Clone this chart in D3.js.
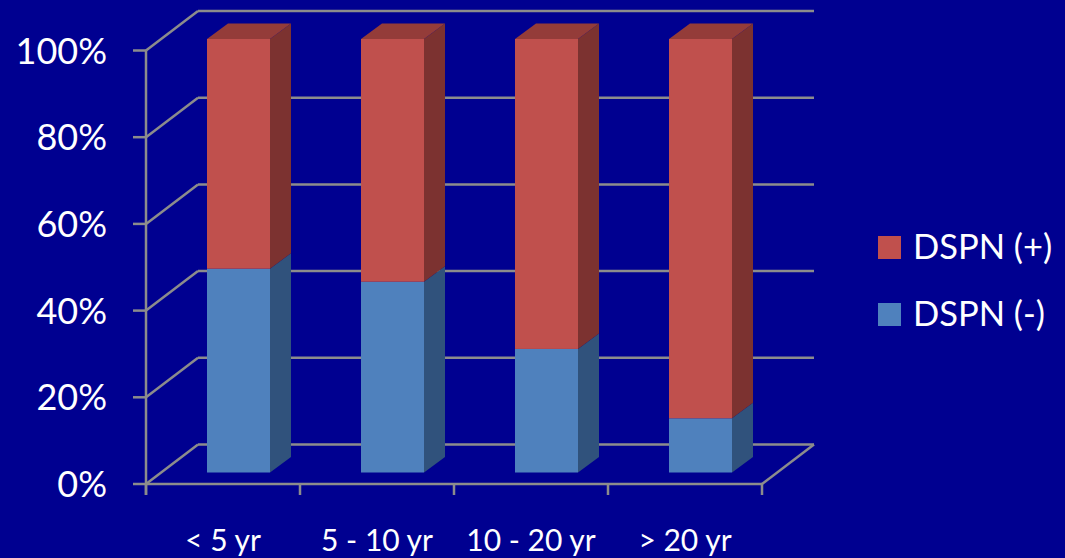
<!DOCTYPE html>
<html>
<head>
<meta charset="utf-8">
<script src="https://cdn.jsdelivr.net/npm/d3@7"></script>
<style>
  html, body { margin: 0; padding: 0; background: #000090; }
  svg { display: block; }
  text { font-family: Lato, "Open Sans", sans-serif; fill: #ffffff; }
</style>
</head>
<body>
<svg id="chart" width="1065" height="558"></svg>
<script>
// Duration of diabetes groups and share of patients with / without DSPN
const categories = ["< 5 yr", "5 - 10 yr", "10 - 20 yr", "> 20 yr"];
const dspnNeg = [0.47, 0.44, 0.285, 0.125];
const dspnPos = dspnNeg.map(v => 1 - v);
const yTicks = [0, 0.2, 0.4, 0.6, 0.8, 1.0];
const seriesNames = ["DSPN (+)", "DSPN (-)"];

const W = 1065, H = 558;
const svg = d3.select("#chart");

// front plane of the 3D plot box
const x = d3.scaleBand().domain(categories).range([146, 762]).padding(0);
const y = d3.scaleLinear().domain([0, 1]).range([484, 50.5]);

// oblique depth of the walls and of the bars
const wallDx = 52, wallDy = -39.5;
const barShiftX = 15.5, barShiftY = -11.5;   // bars sit part-way into the box
const barDx = 21, barDy = -15.5;             // bar depth
const barW = 63;

const grid = "#8c8c8c";
const colors = {
  pos: { front: "#c0504d", side: "#7c3230", top: "#943c39" },
  neg: { front: "#4f81bd", side: "#30527c", top: "#3d679a" }
};

const g = svg.append("g");

// back wall gridlines
g.selectAll("line.back").data(yTicks).join("line")
  .attr("x1", 146 + wallDx).attr("x2", 762 + wallDx)
  .attr("y1", d => y(d) + wallDy).attr("y2", d => y(d) + wallDy)
  .attr("stroke", grid).attr("stroke-width", 2.5);

// left wall gridlines (diagonals)
g.selectAll("line.side").data(yTicks).join("line")
  .attr("x1", 146).attr("x2", 146 + wallDx)
  .attr("y1", d => y(d)).attr("y2", d => y(d) + wallDy)
  .attr("stroke", grid).attr("stroke-width", 2.5);

// floor: front edge and right edge
g.append("line")
  .attr("x1", 146).attr("x2", 762).attr("y1", y(0)).attr("y2", y(0))
  .attr("stroke", grid).attr("stroke-width", 2.5);
g.append("line")
  .attr("x1", 762).attr("x2", 762 + wallDx).attr("y1", y(0)).attr("y2", y(0) + wallDy)
  .attr("stroke", grid).attr("stroke-width", 2.5);

// vertical value axis with ticks
g.append("line")
  .attr("x1", 146).attr("x2", 146).attr("y1", y(1)).attr("y2", y(0) + 11)
  .attr("stroke", grid).attr("stroke-width", 2.5);
g.selectAll("line.ytick").data(yTicks).join("line")
  .attr("x1", 133).attr("x2", 146)
  .attr("y1", d => y(d)).attr("y2", d => y(d))
  .attr("stroke", grid).attr("stroke-width", 2.5);

// category ticks along the front floor edge
const catEdges = categories.map(c => x(c)).concat([x(categories[categories.length - 1]) + x.bandwidth()]);
g.selectAll("line.xtick").data(catEdges).join("line")
  .attr("x1", d => d).attr("x2", d => d)
  .attr("y1", y(0)).attr("y2", y(0) + 11)
  .attr("stroke", grid).attr("stroke-width", 2.5);

// stacked 3D bars
const stacks = categories.map((c, i) => ({
  cat: c,
  segs: [
    { key: "neg", y0: 0, y1: dspnNeg[i] },
    { key: "pos", y0: dspnNeg[i], y1: dspnNeg[i] + dspnPos[i] }
  ]
}));

const bars = g.selectAll("g.bar").data(stacks).join("g").attr("class", "bar");

bars.each(function (d) {
  const bg = d3.select(this);
  const cx = x(d.cat) + x.bandwidth() / 2 + barShiftX;
  const xl = cx - barW / 2, xr = cx + barW / 2;
  d.segs.forEach((s, k) => {
    const yt = y(s.y1) + barShiftY, yb = y(s.y0) + barShiftY;
    const col = colors[s.key];
    // side face
    bg.append("path")
      .attr("d", `M${xr},${yb}L${xr + barDx},${yb + barDy}L${xr + barDx},${yt + barDy}L${xr},${yt}Z`)
      .attr("fill", col.side);
    // front face
    bg.append("rect")
      .attr("x", xl).attr("y", yt).attr("width", barW).attr("height", yb - yt)
      .attr("fill", col.front);
    // top face on the topmost segment
    if (k === d.segs.length - 1) {
      bg.append("path")
        .attr("d", `M${xl},${yt}L${xl + barDx},${yt + barDy}L${xr + barDx},${yt + barDy}L${xr},${yt}Z`)
        .attr("fill", col.top);
    }
  });
});

// value axis labels
g.selectAll("text.ylab").data(yTicks).join("text")
  .attr("x", 107).attr("y", d => y(d) + 13)
  .attr("text-anchor", "end")
  .attr("font-size", 36)
  .text(d => d3.format(".0%")(d));

// category labels
g.selectAll("text.xlab").data(categories).join("text")
  .attr("x", d => x(d) + x.bandwidth() / 2)
  .attr("y", 551)
  .attr("text-anchor", "middle")
  .attr("font-size", 30)
  .text(d => d);

// legend
const legend = g.append("g");
const legendItems = [
  { name: seriesNames[0], color: colors.pos.front, y: 236 },
  { name: seriesNames[1], color: colors.neg.front, y: 303 }
];
legend.selectAll("rect").data(legendItems).join("rect")
  .attr("x", 878).attr("y", d => d.y).attr("width", 23).attr("height", 23)
  .attr("fill", d => d.color);
legend.selectAll("text").data(legendItems).join("text")
  .attr("x", 913).attr("y", d => d.y + 22.5)
  .attr("font-size", 34.5)
  .text(d => d.name);
</script>
</body>
</html>
